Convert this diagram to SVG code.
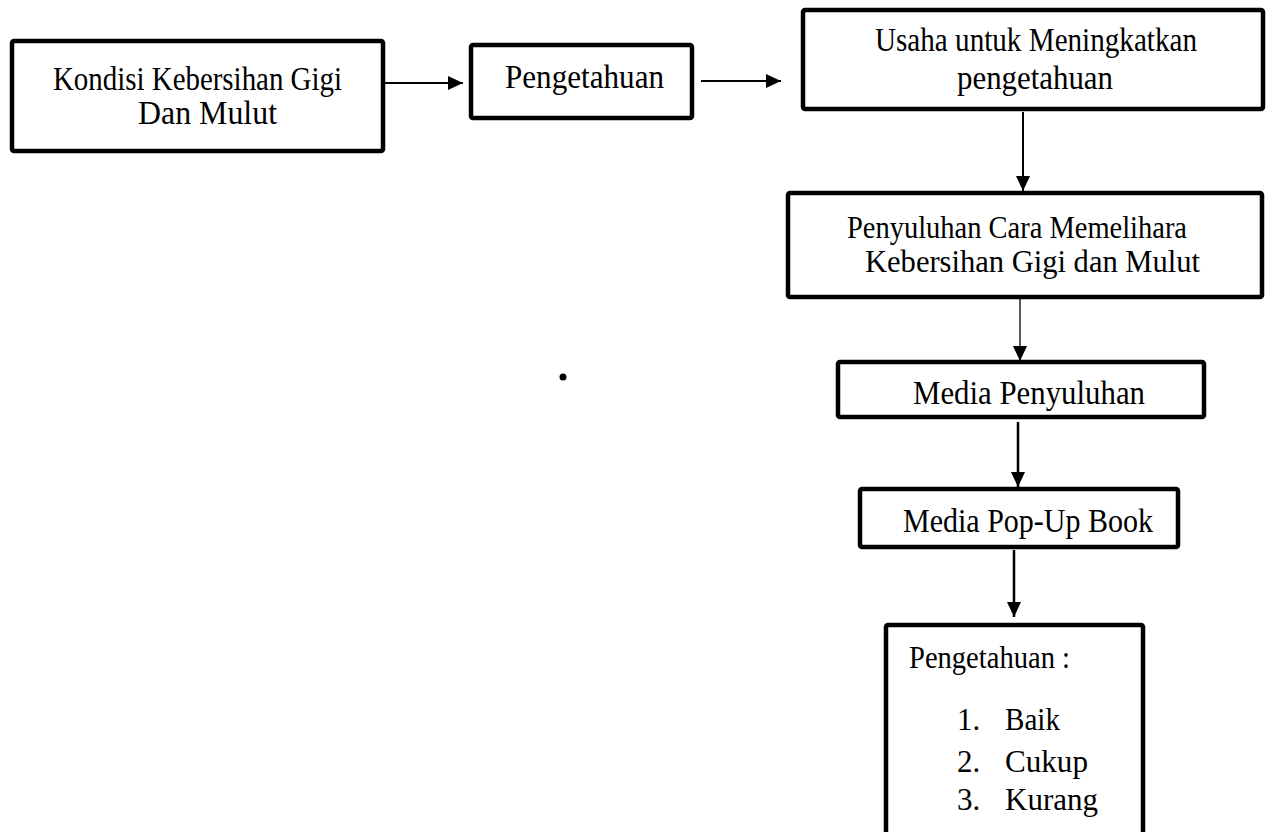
<svg xmlns="http://www.w3.org/2000/svg" width="1270" height="832" viewBox="0 0 1270 832">
<defs>
<style>
.box{fill:#fff;stroke:#000;stroke-width:4.5;stroke-linejoin:round}
.t{font-family:"Liberation Serif","Times New Roman",serif;font-size:34px;fill:#000}
.s{font-size:31px}
.m{font-size:31px}
.c{fill:none;stroke:#000;stroke-width:2}
</style>
<marker id="ah" markerUnits="userSpaceOnUse" markerWidth="16" markerHeight="14" refX="15" refY="7" orient="auto">
<path d="M0,0 L15,7 L0,14 Z" fill="#000"/>
</marker>
</defs>
<rect width="1270" height="832" fill="#fff"/>
<g id="connectors">
<line class="c" x1="385" y1="83" x2="463" y2="83" marker-end="url(#ah)"/>
<line class="c" x1="701" y1="81" x2="781" y2="81" marker-end="url(#ah)"/>
<line class="c" x1="1023" y1="112" x2="1023" y2="191" marker-end="url(#ah)"/>
<line class="c" x1="1020" y1="299" x2="1020" y2="361" marker-end="url(#ah)" style="stroke-width:1.3"/>
<line class="c" x1="1018" y1="422" x2="1018" y2="487" marker-end="url(#ah)" style="stroke-width:2.5"/>
<line class="c" x1="1014" y1="550" x2="1014" y2="617" marker-end="url(#ah)" style="stroke-width:2.5"/>
</g>
<g id="n1">
<rect class="box" x="12" y="41" width="371" height="110" rx="2"/>
<text class="t" x="53" y="90" textLength="289" lengthAdjust="spacingAndGlyphs">Kondisi Kebersihan Gigi</text>
<text class="t" x="138" y="124" textLength="139" lengthAdjust="spacingAndGlyphs">Dan Mulut</text>
</g>
<g id="n2">
<rect class="box" x="471" y="45" width="221" height="73" rx="2"/>
<text class="t" x="505" y="88" textLength="159" lengthAdjust="spacingAndGlyphs">Pengetahuan</text>
</g>
<g id="n3">
<rect class="box" x="803" y="10" width="460" height="99" rx="2"/>
<text class="t" x="875" y="51" textLength="322" lengthAdjust="spacingAndGlyphs">Usaha untuk Meningkatkan</text>
<text class="t" x="957" y="89" textLength="156" lengthAdjust="spacingAndGlyphs">pengetahuan</text>
</g>
<g id="n4">
<rect class="box" x="788" y="193" width="474" height="104" rx="2"/>
<text class="t m" x="847" y="238" textLength="340" lengthAdjust="spacingAndGlyphs">Penyuluhan Cara Memelihara</text>
<text class="t m" x="865" y="272" textLength="335" lengthAdjust="spacingAndGlyphs">Kebersihan Gigi dan Mulut</text>
</g>
<g id="dot"><circle cx="563" cy="377" r="3.5" fill="#000"/></g>
<g id="n5">
<rect class="box" x="838" y="362" width="366" height="55" rx="2"/>
<text class="t" x="913" y="404" textLength="232" lengthAdjust="spacingAndGlyphs">Media Penyuluhan</text>
</g>
<g id="n6">
<rect class="box" x="860" y="489" width="318" height="58" rx="2"/>
<text class="t" x="903" y="532" textLength="250" lengthAdjust="spacingAndGlyphs">Media Pop-Up Book</text>
</g>
<g id="n7">
<rect class="box" x="886" y="625" width="257" height="230" rx="2"/>
<text class="t s" x="909" y="668" textLength="161" lengthAdjust="spacingAndGlyphs">Pengetahuan :</text>
<text class="t s" x="957" y="730">1.</text>
<text class="t s" x="1005" y="730" textLength="55" lengthAdjust="spacingAndGlyphs">Baik</text>
<text class="t s" x="957" y="772">2.</text>
<text class="t s" x="1005" y="772" textLength="83" lengthAdjust="spacingAndGlyphs">Cukup</text>
<text class="t s" x="957" y="810">3.</text>
<text class="t s" x="1005" y="810" textLength="93" lengthAdjust="spacingAndGlyphs">Kurang</text>
</g>
</svg>
